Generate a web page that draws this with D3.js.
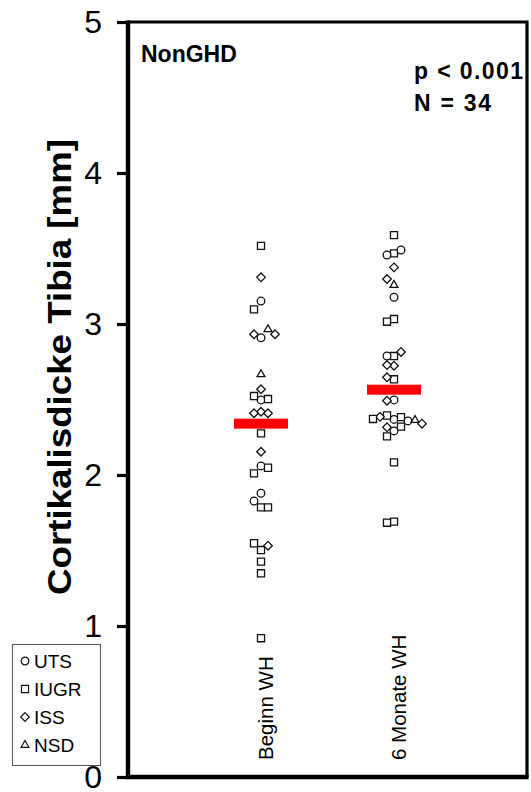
<!DOCTYPE html>
<html>
<head>
<meta charset="utf-8">
<script src="https://cdn.jsdelivr.net/npm/d3@7"></script>
<style>
  body { margin: 0; background: #fff; }
  svg { display: block; font-family: Arial, "Liberation Sans", Helvetica, sans-serif; }
</style>
</head>
<body>
<svg id="chart" width="531" height="792"></svg>
<script>
// Cortical thickness of the tibia, NonGHD group, before and after 6 months of growth hormone
const groups = ["Beginn WH", "6 Monate WH"];
const diagnoses = ["UTS", "IUGR", "ISS", "NSD"];

const beginnValues = [3.517, 3.309, 3.152, 3.097, 2.909, 2.932, 2.965, 2.932, 2.667, 2.568,
  2.497, 2.523, 2.503, 2.419, 2.409, 2.409, 2.276, 2.154, 2.060, 2.011,
  2.048, 1.879, 1.828, 1.786, 1.786, 1.503, 1.548, 1.532, 1.426, 1.349, 0.919];
const beginnTypes = ["IUGR", "ISS", "UTS", "IUGR", "UTS", "ISS", "NSD", "ISS", "NSD", "ISS",
  "UTS", "IUGR", "IUGR", "ISS", "ISS", "ISS", "IUGR", "ISS", "UTS", "IUGR",
  "IUGR", "UTS", "UTS", "IUGR", "IUGR", "IUGR", "IUGR", "ISS", "IUGR", "IUGR", "IUGR"];

const monateValues = [3.589, 3.468, 3.457, 3.490, 3.375, 3.258, 3.298, 3.177, 3.033, 3.015,
  2.788, 2.788, 2.815, 2.724, 2.728, 2.634, 2.647, 2.497, 2.492,
  2.368, 2.394, 2.383, 2.358, 2.385, 2.364, 2.371, 2.340, 2.316, 2.320, 2.292, 2.256,
  2.084, 1.691, 1.684];
const monateTypes = ["IUGR", "IUGR", "UTS", "UTS", "ISS", "NSD", "ISS", "UTS", "IUGR", "IUGR",
  "IUGR", "UTS", "ISS", "ISS", "ISS", "IUGR", "ISS", "UTS", "ISS",
  "UTS", "IUGR", "IUGR", "UTS", "ISS", "NSD", "IUGR", "ISS", "ISS", "IUGR", "UTS", "IUGR",
  "IUGR", "IUGR", "IUGR"];

const groupMedians = [2.34, 2.565];
const yTickValues = [0, 1, 2, 3, 4, 5];
const panelLabel = "NonGHD";
const statsLines = ["p < 0.001", "N = 34"];
const yTitle = "Cortikalisdicke Tibia [mm]";

const svg = d3.select("#chart");
const W = 531, H = 792;
const plot = { left: 128, right: 527, top: 22, bottom: 777 };

const y = d3.scaleLinear().domain([0, 5]).range([plot.bottom, plot.top]);
const x = d3.scalePoint().domain(groups).range([plot.left, plot.right]).padding(1);

// Open-marker shapes per diagnosis
const diamond = {
  draw(ctx, size) {
    const r = Math.sqrt(size / 2);
    ctx.moveTo(0, -r); ctx.lineTo(r, 0); ctx.lineTo(0, r); ctx.lineTo(-r, 0); ctx.closePath();
  }
};
const symbolFor = {
  UTS: d3.symbol(d3.symbolCircle, 46),
  IUGR: d3.symbol(d3.symbolSquare, 50),
  ISS: d3.symbol(diamond, 37),
  NSD: d3.symbol(d3.symbolTriangle, 27)
};

// Horizontal dodge: points closer than minGap vertically take neighbouring slots
function dodge(values, types, group) {
  const step = 7, minGap = 8.8;
  const slotOrder = [0, -1, 1, 2, -2, 3, -3, 4, -4, 5, -5];
  const placed = [];
  values.forEach((v, i) => {
    const py = y(v);
    let slot = slotOrder.find(s => !placed.some(p => p.slot === s && Math.abs(p.py - py) < minGap));
    placed.push({ value: v, type: types[i], py, slot, px: x(group) + slot * step });
  });
  return placed;
}

const points = [
  ...dodge(beginnValues, beginnTypes, groups[0]),
  ...dodge(monateValues, monateTypes, groups[1])
];

// Points
svg.append("g")
  .selectAll("path")
  .data(points)
  .join("path")
  .attr("transform", d => `translate(${d.px},${d.py})`)
  .attr("d", d => symbolFor[d.type]())
  .attr("fill", "#fff")
  .attr("stroke", "#111")
  .attr("stroke-width", 1.3);

// Median bars
svg.append("g")
  .selectAll("rect")
  .data(groups)
  .join("rect")
  .attr("x", g => x(g) - 27)
  .attr("y", (g, i) => y(groupMedians[i]) - 5)
  .attr("width", 54)
  .attr("height", 10)
  .attr("fill", "#ff0000");

// Frame: top and right edges
svg.append("path")
  .attr("d", `M${plot.left},${plot.top}H${plot.right}V${plot.bottom}`)
  .attr("fill", "none")
  .attr("stroke", "#000")
  .attr("stroke-width", 3.2);

// Y axis
const yAxis = d3.axisLeft(y).tickValues(yTickValues).tickSize(11).tickPadding(15).tickFormat(d3.format("d"));
const ya = svg.append("g").attr("transform", `translate(${plot.left},0)`).call(yAxis);
ya.select(".domain").remove();
ya.selectAll(".tick line").attr("stroke", "#000").attr("stroke-width", 3.2);
ya.selectAll(".tick text")
  .attr("font-size", 32)
  .attr("font-family", "Arial, 'Liberation Sans', sans-serif")
  .attr("fill", "#000");

// Axis lines (left and bottom)
svg.append("path")
  .attr("d", `M${plot.left},${plot.top - 1.6}V${plot.bottom}H${plot.right + 1.6}`)
  .attr("fill", "none")
  .attr("stroke", "#000")
  .attr("stroke-width", 4.4);

// Category labels, rotated
svg.append("g")
  .selectAll("text")
  .data(groups)
  .join("text")
  .attr("transform", g => `translate(${x(g) + 5},760) rotate(-90)`)
  .attr("dy", "0.35em")
  .attr("font-size", 20.5)
  .attr("fill", "#000")
  .text(g => g);

// Y axis title
svg.append("text")
  .attr("transform", "translate(71,367) rotate(-90)")
  .attr("text-anchor", "middle")
  .attr("font-size", 34)
  .attr("font-weight", "bold")
  .attr("textLength", 456)
  .attr("lengthAdjust", "spacingAndGlyphs")
  .text(yTitle);

// Panel label and statistics
svg.append("text")
  .attr("x", 141).attr("y", 62)
  .attr("font-size", 23).attr("font-weight", "bold")
  .text(panelLabel);

svg.append("g")
  .selectAll("text")
  .data(statsLines)
  .join("text")
  .attr("x", 414)
  .attr("y", (d, i) => 79 + i * 32)
  .attr("font-size", 23)
  .attr("font-weight", "bold")
  .attr("textLength", (d, i) => i === 0 ? 109 : 77)
  .attr("lengthAdjust", "spacing")
  .text(d => d);

// Legend
const legend = svg.append("g");
legend.append("rect")
  .attr("x", 12.5).attr("y", 644.5)
  .attr("width", 88).attr("height", 121)
  .attr("fill", "#fff")
  .attr("stroke", "#555")
  .attr("stroke-width", 1);
const items = legend.selectAll("g.item")
  .data(diagnoses)
  .join("g")
  .attr("class", "item")
  .attr("transform", (d, i) => `translate(25,${661 + i * 28})`);
items.append("path")
  .attr("d", d => symbolFor[d]())
  .attr("fill", "#fff")
  .attr("stroke", "#111")
  .attr("stroke-width", 1.2);
items.append("text")
  .attr("x", 9)
  .attr("dy", "0.35em")
  .attr("font-size", 19)
  .text(d => d);
</script>
</body>
</html>
